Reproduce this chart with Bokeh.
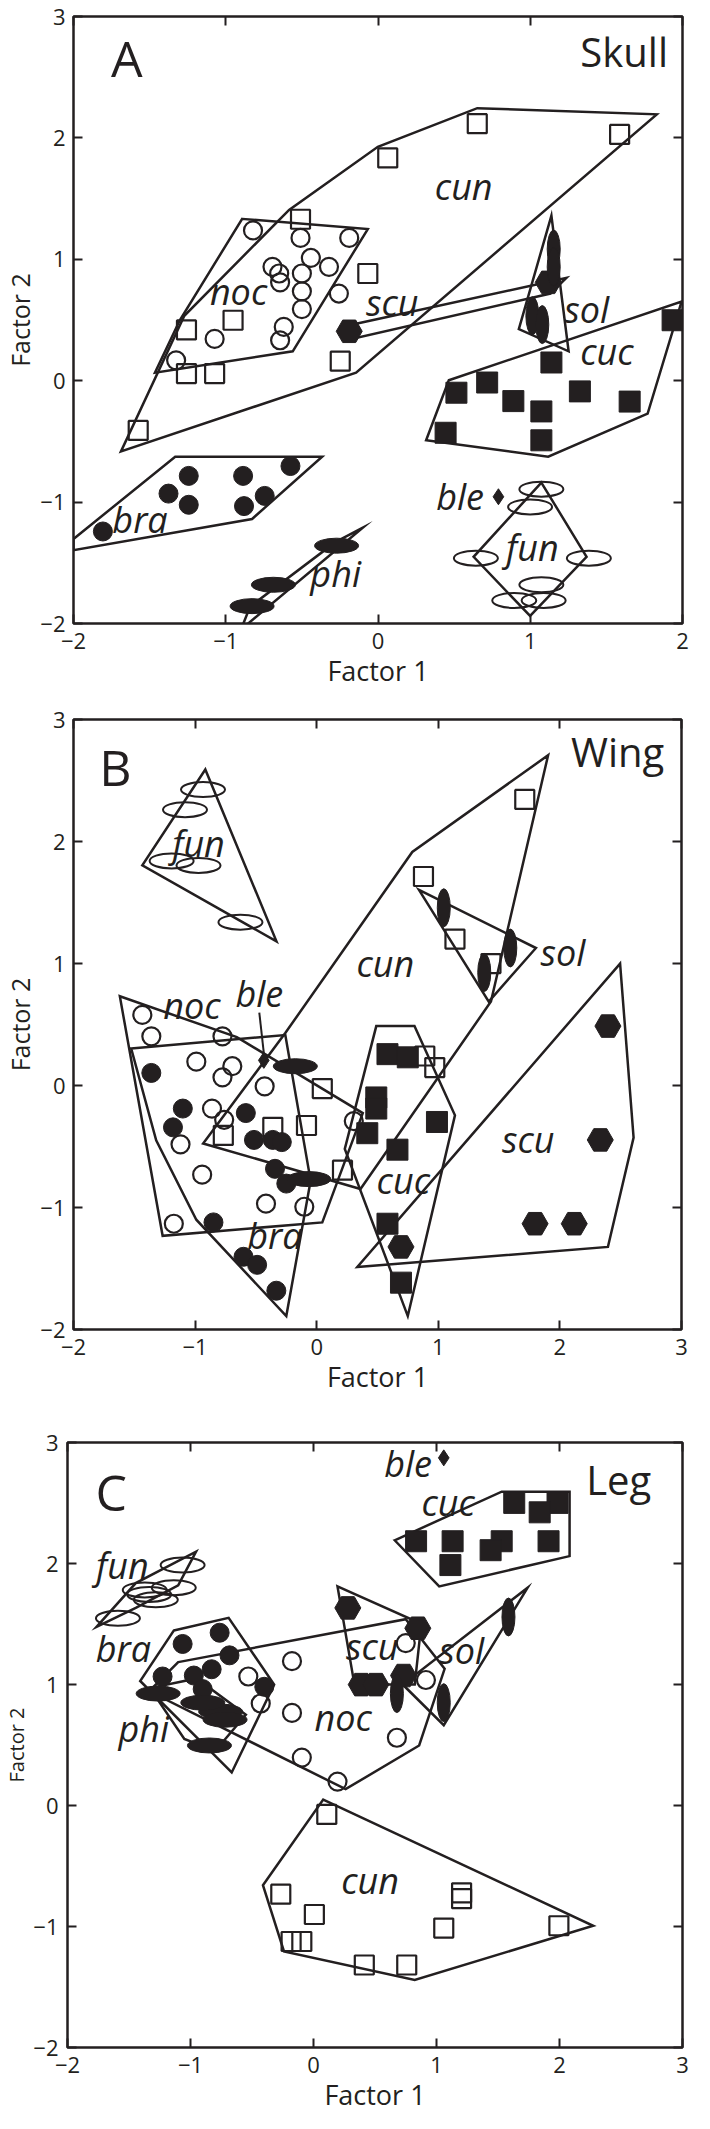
from bokeh.plotting import figure
from bokeh.models import LinearAxis, FixedTicker, Range1d
from bokeh.embed import file_html
from bokeh.resources import INLINE
from bokeh.core.properties import value

INK = "#231f20"
FONT = "Open Sans"

# ---------------- Panel A : Skull (Factor 1 vs Factor 2) ----------------
skull_cun = ([-1.575, -1.258, -1.258, -1.073, -0.952, -0.509, -0.067, -0.248, 0.064, 0.652, 1.587],
             [-0.41, 0.418, 0.059, 0.059, 0.498, 1.330, 0.883, 0.161, 1.835, 2.117, 2.029])
skull_noc = ([-0.821, -0.509, -0.189, -0.441, -0.693, -0.649, -0.500, -0.322, -0.643, -0.500, -0.257, -0.500, -1.073, -0.619, -0.643, -1.326],
             [1.238, 1.176, 1.176, 1.011, 0.938, 0.883, 0.883, 0.938, 0.810, 0.736, 0.718, 0.590, 0.344, 0.443, 0.333, 0.168])
skull_bra = ([-1.807, -1.376, -1.243, -1.243, -0.886, -0.880, -0.744, -0.575],
             [-1.242, -0.930, -0.784, -1.022, -0.784, -1.033, -0.949, -0.703])
skull_phi = ([-0.272, -0.687, -0.827], [-1.359, -1.681, -1.857])
skull_scu = ([-0.189, 1.118], [0.407, 0.810])
skull_sol = ([1.154, 1.154, 1.014, 1.079], [1.084, 0.938, 0.535, 0.462])
skull_cuc = ([0.515, 0.717, 0.889, 1.139, 1.073, 1.326, 1.653, 1.935, 0.444, 1.073],
             [-0.099, -0.015, -0.168, 0.150, -0.253, -0.088, -0.172, 0.498, -0.429, -0.491])
skull_ble = ([0.791], [-0.956])
skull_fun = ([1.073, 0.999, 0.643, 1.385, 1.073, 0.895, 1.088],
             [-0.894, -1.040, -1.462, -1.462, -1.681, -1.810, -1.810])

skull_hull_cun = ([-1.688, -1.272, -0.584, -0.001, 0.652, 1.831, -0.144],
                  [-0.582, 0.535, 1.407, 1.927, 2.245, 2.194, 0.066])
skull_hull_noc = ([-0.892, -0.067, -0.560, -1.465, -1.302], [1.333, 1.249, 0.242, 0.066, 0.498])
skull_hull_bra = ([-2.0, -1.332, -0.367, -0.827, -2.0], [-1.304, -0.626, -0.626, -1.139, -1.396])
skull_hull_phi = ([-0.90, -0.10, -0.28, -0.84], [-2.05, -1.21, -1.33, -1.86])
skull_hull_scu = ([-0.144, 1.237, 1.133, -0.144], [0.469, 0.846, 0.718, 0.352])
skull_hull_sol = ([1.139, 0.925, 1.252], [1.359, 0.425, 0.242])
skull_hull_cuc = ([0.465, 1.994, 1.771, 1.118, 0.316], [0.004, 0.652, -0.271, -0.626, -0.491])
skull_hull_fun = ([1.073, 1.370, 0.999, 0.628], [-0.839, -1.451, -1.938, -1.451])

skull_label_text = ["cun", "noc", "scu", "sol", "cuc", "ble", "fun", "bra", "phi"]
skull_label_x = [0.563, -0.916, 0.094, 1.370, 1.504, 0.539, 1.014, -1.563, -0.278]
skull_label_y = [1.597, 0.736, 0.645, 0.590, 0.242, -0.956, -1.370, -1.143, -1.590]

# ---------------- Panel B : Wing ----------------
wing_fun = ([-0.935, -1.083, -1.193, -0.972, -0.627], [2.426, 2.261, 1.841, 1.804, 1.339])
wing_cun = ([1.711, 0.878, 1.137, 1.433, 0.889, 0.971, 0.046, -0.084, -0.361, -0.768, 0.212],
            [2.345, 1.713, 1.200, 0.999, 0.242, 0.147, -0.025, -0.328, -0.343, -0.409, -0.694])
wing_sol = ([1.045, 1.592, 1.378], [1.457, 1.127, 0.926])
wing_noc = ([-1.434, -1.360, -0.775, -0.990, -0.694, -0.775, -0.428, -0.861, -0.761, -1.120, -0.942, -0.417, -0.102, -1.175, 0.305],
            [0.579, 0.403, 0.403, 0.195, 0.158, 0.067, -0.007, -0.189, -0.281, -0.482, -0.731, -0.969, -0.994, -1.133, -0.292])
wing_bra = ([-1.360, -1.101, -1.182, -0.583, -0.516, -0.361, -0.287, -0.343, -0.250, -0.849, -0.602, -0.490, -0.332],
            [0.103, -0.189, -0.343, -0.226, -0.446, -0.446, -0.464, -0.683, -0.804, -1.122, -1.404, -1.470, -1.682])
wing_phi = ([-0.176, -0.065], [0.158, -0.767])
wing_cuc = ([0.582, 0.749, 0.490, 0.490, 0.416, 0.989, 0.664, 0.582, 0.693],
            [0.257, 0.231, -0.098, -0.189, -0.391, -0.299, -0.526, -1.133, -1.616])
wing_scu = ([2.395, 2.332, 1.796, 2.118, 0.693], [0.487, -0.446, -1.133, -1.133, -1.323])
wing_ble = ([-0.435], [0.206])

wing_hull_fun = ([-0.916, -1.434, -0.331], [2.590, 1.804, 1.182])
wing_hull_cun = ([1.903, 1.433, 0.360, -0.934, -0.257, 0.786], [2.707, 0.688, -0.848, -0.475, 0.432, 1.914])
wing_hull_sol = ([0.841, 1.803, 1.415], [1.603, 1.127, 0.688])
wing_hull_noc = ([-1.619, -0.657, 0.379, 0.046, -1.267], [0.732, 0.396, -0.226, -1.122, -1.232])
wing_hull_bra = ([-1.526, -0.258, -0.05, -0.25, -0.99, -1.32], [0.304, 0.414, -0.78, -1.89, -1.10, -0.45])
wing_hull_cuc = ([0.490, 0.804, 1.137, 0.749, 0.231], [0.487, 0.487, -0.244, -1.890, -0.519])
wing_hull_scu = ([2.495, 2.606, 2.395, 0.334], [0.999, -0.427, -1.323, -1.488])

wing_label_text = ["fun", "noc", "ble", "cun", "sol", "scu", "cuc", "bra"]
wing_label_x = [-0.972, -1.027, -0.472, 0.564, 2.025, 1.740, 0.712, -0.343]
wing_label_y = [1.987, 0.652, 0.754, 0.999, 1.091, -0.446, -0.775, -1.232]
wing_pointer = ([-0.472, -0.435], [0.597, 0.268])

# ---------------- Panel C : Leg ----------------
leg_cun = ([0.108, -0.266, 0.007, -0.182, -0.095, 0.413, 0.758, 1.059, 1.204, 1.204, 1.995],
           [-0.074, -0.733, -0.901, -1.124, -1.124, -1.318, -1.318, -1.013, -0.722, -0.770, -0.994])
leg_cuc = ([1.632, 1.984, 1.839, 0.834, 1.131, 1.530, 1.440, 1.911, 1.113],
           [2.501, 2.501, 2.423, 2.184, 2.184, 2.184, 2.110, 2.184, 1.987])
leg_ble = ([1.059], [2.873])
leg_fun = ([-1.064, -1.136, -1.372, -1.336, -1.282, -1.590], [1.987, 1.800, 1.782, 1.744, 1.700, 1.547])
leg_bra = ([-1.064, -0.763, -0.683, -1.227, -0.973, -0.901, -0.400, -0.828],
           [1.335, 1.428, 1.241, 1.066, 1.074, 0.962, 0.981, 1.126])
leg_phi = ([-1.263, -0.755, -0.719, -0.846, -0.900], [0.925, 0.776, 0.709, 0.496, 0.850])
leg_noc = ([-0.175, -0.530, -0.429, -0.175, -0.095, 0.195, 0.678, 0.914, 0.750],
           [1.193, 1.066, 0.843, 0.765, 0.396, 0.198, 0.560, 1.037, 1.342])
leg_scu = ([0.279, 0.848, 0.388, 0.507, 0.732], [1.633, 1.465, 0.999, 0.999, 1.074])
leg_sol = ([1.585, 1.059, 0.678], [1.558, 0.850, 0.925])

leg_hull_cun = ([0.079, 2.274, 0.823, -0.240, -0.411], [0.049, -0.994, -1.441, -1.206, -0.659])
leg_hull_cuc = ([0.660, 1.530, 2.082, 2.082, 1.022], [2.192, 2.594, 2.594, 2.061, 1.811])
leg_hull_fun = ([-1.764, -1.445, -0.955, -1.100, -1.445], [1.476, 1.838, 2.098, 1.819, 1.633])
leg_hull_bra = ([-1.136, -0.690, -0.320, -0.665, -1.409], [1.446, 1.551, 0.999, 0.273, 1.029])
leg_hull_phi = ([-1.33, -0.95, -0.55, -0.80, -1.05], [0.97, 1.05, 0.75, 0.45, 0.55])
leg_hull_noc = ([-1.100, 0.750, 1.066, 0.859, 0.261, -1.336], [1.185, 1.540, 1.130, 0.496, 0.135, 0.944])
leg_hull_scu = ([0.195, 0.877, 0.823, 0.333], [1.811, 1.502, 0.999, 0.999])
leg_hull_sol = ([1.741, 1.059, 0.725], [1.800, 0.664, 1.000])

leg_label_text = ["ble", "cuc", "fun", "bra", "phi", "scu", "sol", "noc", "cun"]
leg_label_x = [0.769, 1.095, -1.554, -1.546, -1.379, 0.478, 1.204, 0.242, 0.460]
leg_label_y = [2.825, 2.501, 1.987, 1.297, 0.634, 1.316, 1.279, 0.731, -0.621]

# panel letters / titles  (data coordinates of the annotation anchors)
panel_letter = ["A", "B", "C"]
panel_title = ["Skull", "Wing", "Leg"]
letter_x = [-1.650, -1.656, -1.644]
letter_y = [2.659, 2.609, 2.594]
title_x = [1.905, 2.858, 2.746]
title_y = [2.714, 2.737, 2.694]
x_max = [2, 3, 3]


def draw_species(p, kind, data):
    xs, ys = data
    if kind == "cun":
        p.scatter(xs, ys, marker="square", size=19, fill_color=None, line_color=INK, line_width=2.2)
    elif kind == "noc":
        p.scatter(xs, ys, marker="circle", size=18, fill_color=None, line_color=INK, line_width=2.2)
    elif kind == "bra":
        p.scatter(xs, ys, marker="circle", size=19, fill_color=INK, line_color=INK)
    elif kind == "cuc":
        p.scatter(xs, ys, marker="square", size=21, fill_color=INK, line_color=INK)
    elif kind == "scu":
        p.scatter(xs, ys, marker="hex", size=26, fill_color=INK, line_color=INK)
    elif kind == "ble":
        p.scatter(xs, ys, marker="diamond", size=16, fill_color=INK, line_color=INK)
    elif kind == "fun":
        p.ellipse(xs, ys, width=44, height=15, width_units="screen", height_units="screen",
                  fill_color=None, line_color=INK, line_width=2)
    elif kind == "phi":
        p.ellipse(xs, ys, width=44, height=15, width_units="screen", height_units="screen",
                  fill_color=INK, line_color=INK)
    elif kind == "sol":
        p.ellipse(xs, ys, width=13, height=38, width_units="screen", height_units="screen",
                  fill_color=INK, line_color=INK)


def make_panel(i, width, height, bl, br, bt, bb, ytick_standoff, ylab_size):
    p = figure(width=width, height=height, x_range=Range1d(-2, x_max[i]), y_range=Range1d(-2, 3),
               output_backend="svg", toolbar_location=None,
               min_border_left=bl, min_border_right=br, min_border_top=bt, min_border_bottom=bb,
               x_axis_label="Factor 1", y_axis_label="Factor 2")
    p.grid.visible = False
    p.outline_line_color = INK
    p.outline_line_width = 2.5
    p.outline_line_alpha = 1.0
    p.background_fill_color = "white"
    p.border_fill_color = "white"
    xt = list(range(-2, x_max[i] + 1))
    yt = [-2, -1, 0, 1, 2, 3]
    p.add_layout(LinearAxis(), "above")
    p.add_layout(LinearAxis(), "right")
    for ax in p.xaxis:
        ax.ticker = FixedTicker(ticks=xt)
    for ax in p.yaxis:
        ax.ticker = FixedTicker(ticks=yt)
    for ax in p.xaxis + p.yaxis:
        ax.major_tick_in = 9
        ax.major_tick_out = 0
        ax.minor_tick_in = 0
        ax.minor_tick_out = 0
        ax.axis_line_color = None
        ax.major_tick_line_color = INK
        ax.major_tick_line_width = 2
        ax.major_label_text_font = FONT
        ax.major_label_text_font_size = "22px"
        ax.major_label_text_color = INK
        ax.axis_label_text_font = FONT
        ax.axis_label_text_font_style = "normal"
        ax.axis_label_text_color = INK
    for ax in (p.above + p.right):
        # tick marks only on the top / right edges of the frame
        ax.major_label_text_font_size = "1px"
        ax.major_label_text_color = None
        ax.major_label_standoff = 0
        ax.axis_label = None
    p.below[0].major_label_standoff = 9
    p.below[0].axis_label_standoff = 0
    p.below[0].axis_label_text_font_size = "27px"
    p.left[0].major_label_standoff = ytick_standoff
    p.left[0].axis_label_standoff = 0
    p.left[0].axis_label_text_font_size = ylab_size
    return p


def finish(p, i, hulls, species, labels):
    for hx, hy in hulls:
        p.patch(hx, hy, fill_color=None, line_color=INK, line_width=2.5, line_join="miter")
    for kind, data in species:
        draw_species(p, kind, data)
    lt, lx, ly = labels
    p.text(lx, ly, text=lt, text_font=value(FONT), text_font_style="italic", text_font_size="36px",
           text_align="center", text_baseline="middle", text_color=INK)
    p.text([letter_x[i]], [letter_y[i]], text=[panel_letter[i]], text_font=value(FONT),
           text_font_size="50px", text_align="center", text_baseline="middle", text_color=INK)
    p.text([title_x[i]], [title_y[i]], text=[panel_title[i]], text_font=value(FONT),
           text_font_size="40px", text_align="right", text_baseline="middle", text_color=INK)


pA = make_panel(0, 694, 701, 70, 12, 16, 78, 8, "25px")
finish(pA, 0,
       [skull_hull_cun, skull_hull_noc, skull_hull_bra, skull_hull_phi, skull_hull_scu,
        skull_hull_sol, skull_hull_cuc, skull_hull_fun],
       [("cun", skull_cun), ("noc", skull_noc), ("bra", skull_bra), ("phi", skull_phi),
        ("scu", skull_scu), ("sol", skull_sol), ("cuc", skull_cuc), ("ble", skull_ble),
        ("fun", skull_fun)],
       (skull_label_text, skull_label_x, skull_label_y))

pB = make_panel(1, 694, 721, 70, 13, 18, 93, 8, "25px")
finish(pB, 1,
       [wing_hull_fun, wing_hull_cun, wing_hull_sol, wing_hull_noc, wing_hull_bra,
        wing_hull_cuc, wing_hull_scu],
       [("fun", wing_fun), ("cun", wing_cun), ("sol", wing_sol), ("noc", wing_noc),
        ("bra", wing_bra), ("phi", wing_phi), ("cuc", wing_cuc), ("scu", wing_scu),
        ("ble", wing_ble)],
       (wing_label_text, wing_label_x, wing_label_y))
pB.line(wing_pointer[0], wing_pointer[1], line_color=INK, line_width=2)

pC = make_panel(2, 694, 693, 59, 12, 20, 50, 9, "20px")
finish(pC, 2,
       [leg_hull_cun, leg_hull_cuc, leg_hull_fun, leg_hull_bra, leg_hull_phi, leg_hull_noc,
        leg_hull_scu, leg_hull_sol],
       [("cun", leg_cun), ("cuc", leg_cuc), ("ble", leg_ble), ("fun", leg_fun), ("bra", leg_bra),
        ("phi", leg_phi), ("noc", leg_noc), ("scu", leg_scu), ("sol", leg_sol)],
       (leg_label_text, leg_label_x, leg_label_y))

# three independent roots stacked on the page (keeps each frame at its own position)
open("out.html", "w").write(file_html([pA, pB, pC], INLINE))
